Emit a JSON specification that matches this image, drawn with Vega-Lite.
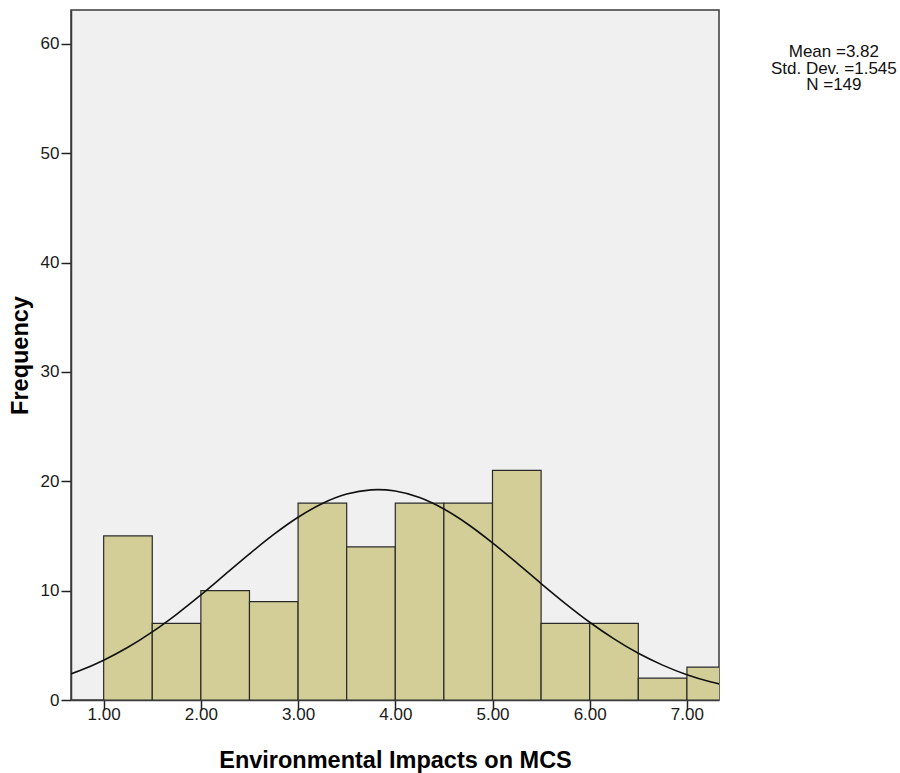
{
  "$schema": "https://vega.github.io/schema/vega-lite/v6.json",
  "width": 648,
  "height": 690,
  "autosize": {"type": "none"},
  "padding": {"left": 71, "top": 10, "right": 181, "bottom": 73},
  "background": "white",
  "title": {
    "text": ["Mean =3.82", "Std. Dev. =1.545", "N =149"],
    "orient": "right",
    "angle": 0,
    "anchor": "start",
    "align": "center",
    "baseline": "top",
    "offset": -11,
    "dy": 34,
    "font": "Liberation Sans",
    "fontSize": 17,
    "fontWeight": "normal",
    "lineHeight": 16.5,
    "color": "#111111"
  },
  "config": {
    "view": {"fill": "#f0f0f0", "stroke": "#3a3a3a", "strokeWidth": 1.5},
    "axis": {
      "grid": false,
      "labelFont": "Liberation Sans",
      "labelFontSize": 17,
      "labelColor": "#1a1a1a",
      "titleFont": "Liberation Sans",
      "titleFontSize": 23.5,
      "titleFontWeight": "bold",
      "titleColor": "#000000",
      "tickSize": 10,
      "tickColor": "#222222",
      "tickWidth": 1.5,
      "domainColor": "#3a3a3a",
      "domainWidth": 1.5
    }
  },
  "datasets": {
    "bins": [
      {"bin_start": 1.0, "bin_end": 1.5, "count": 15},
      {"bin_start": 1.5, "bin_end": 2.0, "count": 7},
      {"bin_start": 2.0, "bin_end": 2.5, "count": 10},
      {"bin_start": 2.5, "bin_end": 3.0, "count": 9},
      {"bin_start": 3.0, "bin_end": 3.5, "count": 18},
      {"bin_start": 3.5, "bin_end": 4.0, "count": 14},
      {"bin_start": 4.0, "bin_end": 4.5, "count": 18},
      {"bin_start": 4.5, "bin_end": 5.0, "count": 18},
      {"bin_start": 5.0, "bin_end": 5.5, "count": 21},
      {"bin_start": 5.5, "bin_end": 6.0, "count": 7},
      {"bin_start": 6.0, "bin_end": 6.5, "count": 7},
      {"bin_start": 6.5, "bin_end": 7.0, "count": 2},
      {"bin_start": 7.0, "bin_end": 7.5, "count": 3}
    ],
    "curve": [
      {"x": 0.6, "y": 2.2},
      {"x": 0.75, "y": 2.67},
      {"x": 1.0, "y": 3.64},
      {"x": 1.25, "y": 4.82},
      {"x": 1.5, "y": 6.23},
      {"x": 1.75, "y": 7.84},
      {"x": 2.0, "y": 9.61},
      {"x": 2.25, "y": 11.48},
      {"x": 2.5, "y": 13.36},
      {"x": 2.75, "y": 15.14},
      {"x": 3.0, "y": 16.71},
      {"x": 3.25, "y": 17.97},
      {"x": 3.5, "y": 18.83},
      {"x": 3.75, "y": 19.22},
      {"x": 3.82, "y": 19.24},
      {"x": 4.0, "y": 19.11},
      {"x": 4.25, "y": 18.51},
      {"x": 4.5, "y": 17.46},
      {"x": 4.75, "y": 16.05},
      {"x": 5.0, "y": 14.37},
      {"x": 5.25, "y": 12.54},
      {"x": 5.5, "y": 10.65},
      {"x": 5.75, "y": 8.82},
      {"x": 6.0, "y": 7.11},
      {"x": 6.25, "y": 5.59},
      {"x": 6.5, "y": 4.27},
      {"x": 6.75, "y": 3.19},
      {"x": 7.0, "y": 2.31},
      {"x": 7.25, "y": 1.64},
      {"x": 7.4, "y": 1.33}
    ]
  },
  "layer": [
    {
      "data": {"name": "bins"},
      "mark": {"type": "rect", "fill": "#d3ce98", "stroke": "#2a2a2a", "strokeWidth": 1.2, "clip": true},
      "encoding": {
        "x": {
          "field": "bin_start",
          "type": "quantitative",
          "scale": {"domain": [0.664, 7.33], "nice": false, "zero": false},
          "axis": {"values": [1, 2, 3, 4, 5, 6, 7], "format": ".2f", "title": "Environmental Impacts on MCS", "labelPadding": -4, "titlePadding": 26}
        },
        "x2": {"field": "bin_end"},
        "y": {
          "field": "count",
          "type": "quantitative",
          "scale": {"domain": [0, 63.1], "nice": false},
          "axis": {"values": [0, 10, 20, 30, 40, 50, 60], "format": "d", "title": "Frequency", "labelPadding": 2, "titlePadding": 8}
        },
        "y2": {"datum": 0}
      }
    },
    {
      "data": {"name": "curve"},
      "mark": {"type": "line", "color": "#111111", "strokeWidth": 1.6, "interpolate": "monotone", "clip": true},
      "encoding": {
        "x": {"field": "x", "type": "quantitative"},
        "y": {"field": "y", "type": "quantitative"}
      }
    }
  ]
}
